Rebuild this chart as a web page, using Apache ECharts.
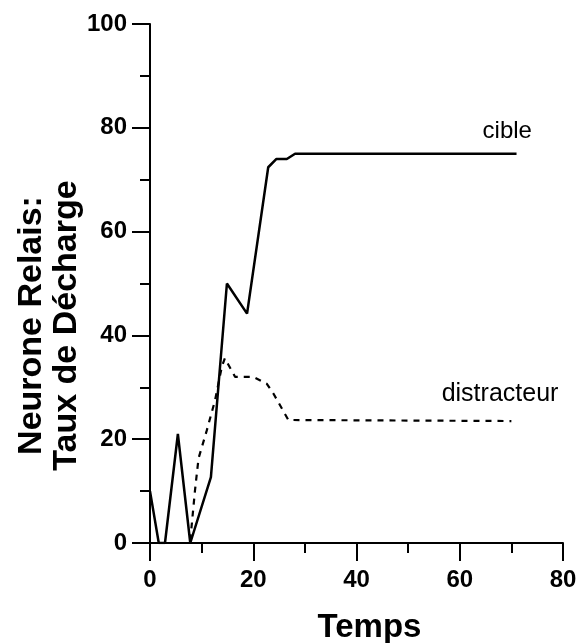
<!DOCTYPE html>
<html>
<head>
<meta charset="utf-8">
<script src="https://cdn.jsdelivr.net/npm/echarts@6/dist/echarts.min.js"></script>
<style>
html,body{margin:0;padding:0;background:#fff;}
#c{width:579px;height:643px;}
</style>
</head>
<body>
<div id="c"></div>
<script>
// Data
var cibleTemps = [0, 1.7, 2.9, 5.4, 7.8, 11.8, 14.9, 18.8, 22.9, 24.5, 26.5, 28.1, 71];
var cibleValeurs = [10, 0, 0, 21, 0, 12.7, 50, 44.2, 72.4, 74, 74, 75, 75];
var distracteurTemps = [7.8, 8.7, 9.4, 11, 12.6, 13.9, 14.5, 16.5, 20, 22.6, 23.9, 26.8, 70];
var distracteurValeurs = [0.5, 10, 16.3, 21.7, 27.5, 33.9, 35.6, 32, 32, 30.7, 28.8, 23.7, 23.5];
var xTicks = [0, 20, 40, 60, 80];
var yTicks = [0, 20, 40, 60, 80, 100];
var seriesNames = ['cible', 'distracteur'];
var labelPos = { cible: [69.2, 79.4], distracteur: [67.8, 28.7] };

function pairs(xs, ys) { return xs.map(function (x, i) { return [x, ys[i]]; }); }

var font = '"Liberation Sans", Arial, Helvetica, sans-serif';
var chart = echarts.init(document.getElementById('c'), null, { renderer: 'canvas' });

var axisCommon = {
  axisLine: { show: true, onZero: false, lineStyle: { color: '#000', width: 2 } },
  axisTick: { show: true, inside: false, length: 18, lineStyle: { color: '#000', width: 2 } },
  minorTick: { show: true, splitNumber: 2, length: 10, lineStyle: { color: '#000', width: 2 } },
  splitLine: { show: false },
  minorSplitLine: { show: false },
  axisLabel: { color: '#000', fontFamily: font, fontSize: 24, fontWeight: 'bold' }
};

chart.setOption({
  animation: false,
  backgroundColor: '#fff',
  grid: { left: 150, right: 16, top: 24, bottom: 100, containLabel: false, outerBoundsMode: 'none' },
  xAxis: Object.assign({}, axisCommon, {
    type: 'value', min: xTicks[0], max: xTicks[xTicks.length - 1], interval: 20,
    name: 'Temps', nameLocation: 'middle', nameGap: 68, nameMoveOverlap: false,
    nameTextStyle: { color: '#000', fontFamily: font, fontSize: 33, fontWeight: 'bold', padding: [0, 0, 0, 26] },
    axisLabel: Object.assign({}, axisCommon.axisLabel, { margin: 25 })
  }),
  yAxis: Object.assign({}, axisCommon, {
    type: 'value', min: yTicks[0], max: yTicks[yTicks.length - 1], interval: 20,
    name: 'Neurone Relais:\nTaux de Décharge', nameLocation: 'middle', nameGap: 66, nameRotate: 90, nameMoveOverlap: false,
    nameTextStyle: { color: '#000', fontFamily: font, fontSize: 34, fontWeight: 'bold', lineHeight: 35, padding: [0, 84, 0, 0] },
    axisLabel: Object.assign({}, axisCommon.axisLabel, { margin: 23 })
  }),
  series: [
    {
      name: seriesNames[0], type: 'line', data: pairs(cibleTemps, cibleValeurs),
      showSymbol: false, symbol: 'none',
      lineStyle: { color: '#000', width: 2.5, type: 'solid' },
      markPoint: {
        symbol: 'circle', symbolSize: 0,
        label: { show: true, formatter: seriesNames[0], color: '#000', fontFamily: font, fontSize: 24, position: 'inside' },
        data: [{ coord: labelPos.cible }]
      }
    },
    {
      name: seriesNames[1], type: 'line', data: pairs(distracteurTemps, distracteurValeurs),
      showSymbol: false, symbol: 'none',
      lineStyle: { color: '#000', width: 2.2, type: [6, 6] },
      markPoint: {
        symbol: 'circle', symbolSize: 0,
        label: { show: true, formatter: seriesNames[1], color: '#000', fontFamily: font, fontSize: 25, position: 'inside' },
        data: [{ coord: labelPos.distracteur }]
      }
    }
  ]
});
</script>
</body>
</html>
